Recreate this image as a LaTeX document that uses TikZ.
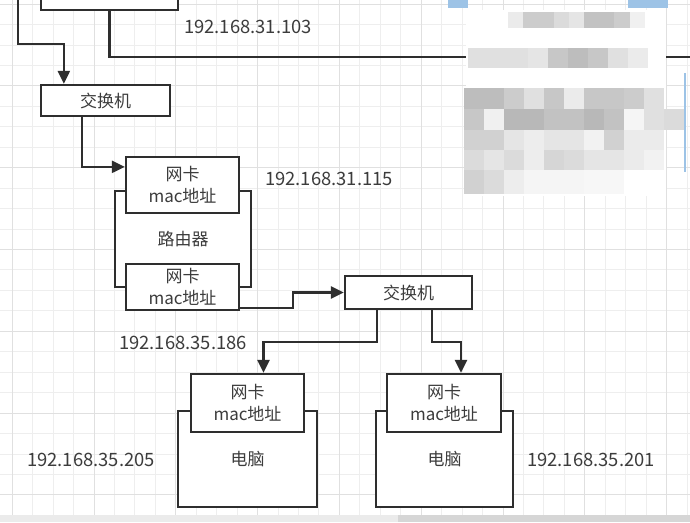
\documentclass[tikz,border=0pt]{standalone}
\usepackage{fontspec}
\setmainfont{Noto Sans CJK SC}
\usetikzlibrary{arrows.meta,calc}
\definecolor{ln}{HTML}{2E2E2E}
\definecolor{tx}{HTML}{3c3c3c}
\definecolor{gridminor}{HTML}{EEEEEE}
\definecolor{gridmajor}{HTML}{E0E0E0}
\definecolor{bluebar}{HTML}{9DC3E6}
\begin{document}
\begin{tikzpicture}[x=1pt,y=-1pt,
  box/.style={draw=ln,line width=2.3pt,fill=white,inner sep=0pt,text=tx,
    font=\fontsize{17}{22}\selectfont,align=center},
  conn/.style={draw=ln,line width=2.3pt},
  arr/.style={conn,-{Triangle[length=13pt,width=12pt]}},
  ip/.style={text=tx,font=\fontsize{18.4}{22}\selectfont,inner sep=0pt}]
\useasboundingbox (0,0) rectangle (690,522);
\fill[white] (0,0) rectangle (690,522);
% grid
\foreach \k in {0,...,33} {
  \pgfmathsetmacro{\xx}{12.1+\k*20.45}
  \draw[gridminor,line width=0.8pt] (\xx,0) -- (\xx,522);
}
\foreach \k in {0,...,25} {
  \pgfmathsetmacro{\yy}{4+\k*20.45}
  \draw[gridminor,line width=0.8pt] (0,\yy) -- (690,\yy);
}
\foreach \k in {0,...,8} {
  \pgfmathsetmacro{\xx}{12.1+\k*81.8}
  \draw[gridmajor,line width=0.8pt] (\xx,0) -- (\xx,522);
}
\foreach \k in {0,...,6} {
  \pgfmathsetmacro{\yy}{4+\k*81.8}
  \draw[gridmajor,line width=0.8pt] (0,\yy) -- (690,\yy);
}
% nodes
\node[box,minimum width=137pt,minimum height=40pt] (topbox) at (109.5,-10) {};
\node[box,minimum width=129pt,minimum height=31pt] (sw1) at (105.5,100.5) {交换机};
\node[box,minimum width=136pt,minimum height=96pt] (router) at (183,239) {路由器};
\node[box,minimum width=113pt,minimum height=56pt] (card1) at (182.5,185) {网卡\\mac地址};
\node[box,minimum width=113pt,minimum height=46pt] (card2) at (182.5,287) {网卡\\mac地址};
\node[box,minimum width=127pt,minimum height=33pt] (sw2) at (408.5,292.5) {交换机};
\node[box,minimum width=139pt,minimum height=96pt] (pc1) at (247.5,459) {电脑};
\node[box,minimum width=113pt,minimum height=58pt] (pc1card) at (247.5,403) {网卡\\mac地址};
\node[box,minimum width=137pt,minimum height=96pt] (pc2) at (444.5,459) {电脑};
\node[box,minimum width=114pt,minimum height=58pt] (pc2card) at (444,403) {网卡\\mac地址};
% ip labels
\node[ip] (ip1) at (248,27) {192.168.31.103};
\node[ip] (ip2) at (329,179) {192.168.31.115};
\node[ip] (ip3) at (183,343) {192.168.35.186};
\node[ip] (ip4) at (91,460) {192.168.35.205};
\node[ip] (ip5) at (591,460) {192.168.35.201};
% connectors
\coordinate (tl) at (18,0);
\coordinate (tr) at (690,57);
\draw[arr] (tl) -- (18,44) -| ($(sw1.north west)+(24,0)$);
\draw[conn] (topbox.south) |- (tr);
\draw[arr] ($(sw1.south west)+(42,0)$) |- ($(card1.north west)+(0,11)$);
\draw[arr] ($(card2.south east)+(0,-3)$) -- ++(53,0) |- (sw2.west);
\draw[arr] ($(sw2.south west)+(33,0)$) -- ++(0,32) -| ($(pc1card.north)+(16,0)$);
\draw[arr] ($(sw2.south west)+(88,0)$) -- ++(0,32) -| ($(pc2card.north)+(17,0)$);
% obscured (mosaic) region
\fill[bluebar] (448,0) rectangle (468,8);
\fill[bluebar] (628,0) rectangle (668,8);
\fill[bluebar] (684,73) rectangle (686,172);
\fill[white] (466,10) rectangle (666,196);
\foreach \g [count=\i from 0] in {8,20,20,14,10,24,24,20,6} {
  \fill[black!\g] (508+\i*15.2,12) rectangle ++(15.3,16);}
\foreach \g [count=\i from 0] in {12,12,12,10,22,26,22,12,8} {
  \fill[black!\g] (468+\i*20,48) rectangle ++(20.1,20);}
\foreach \g [count=\i from 0] in {26,26,20,12,22,8,22,22,20,12} {
  \fill[black!\g] (464+\i*20,88) rectangle ++(20.1,21);}
\foreach \g [count=\i from 0] in {22,6,28,28,24,24,28,24,4,12,14} {
  \fill[black!\g] (464+\i*20,109) rectangle ++(20.1,21);}
\foreach \g [count=\i from 0] in {18,18,10,7,10,10,5,18,8,8} {
  \fill[black!\g] (464+\i*20,130) rectangle ++(20.1,20);}
\foreach \g [count=\i from 0] in {14,10,14,7,16,14,10,10,8,5} {
  \fill[black!\g] (464+\i*20,150) rectangle ++(20.1,20);}
\foreach \g [count=\i from 0] in {18,14,7,4,4,4,3,3} {
  \fill[black!\g] (464+\i*20,170) rectangle ++(20.1,24);}
% bottom bar
\fill[black!8] (0,515) rectangle (690,522);
\fill[black!16] (398,515) rectangle (690,522);
\end{tikzpicture}
\end{document}
